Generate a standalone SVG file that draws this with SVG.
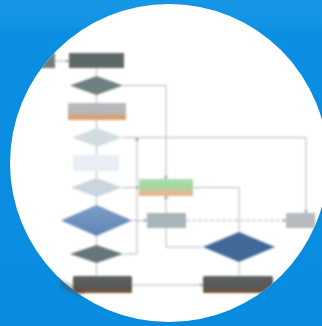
<svg xmlns="http://www.w3.org/2000/svg" width="322" height="326" viewBox="0 0 322 326">
<defs>
<clipPath id="cc"><circle cx="169" cy="163" r="159"/></clipPath>
<filter id="bl" x="-10%" y="-10%" width="120%" height="120%"><feGaussianBlur stdDeviation="0.8"/></filter>
<filter id="sh" x="-50%" y="-50%" width="200%" height="200%"><feGaussianBlur stdDeviation="2"/></filter>
<linearGradient id="bg" x1="0" y1="0" x2="0" y2="1"><stop offset="0" stop-color="#1697e6"/><stop offset="0.08" stop-color="#1293e4"/><stop offset="0.1" stop-color="#0b8fe2"/><stop offset="1" stop-color="#0a8de0"/></linearGradient>
<linearGradient id="g2" x1="0" y1="0" x2="0" y2="1"><stop offset="0" stop-color="#b8babd"/><stop offset="0.6" stop-color="#b4b6b9"/><stop offset="0.75" stop-color="#d8a475"/><stop offset="1" stop-color="#d9a070"/></linearGradient>
<linearGradient id="gg" x1="0" y1="0" x2="0" y2="1"><stop offset="0" stop-color="#a9dcaa"/><stop offset="0.55" stop-color="#a4d6a2"/><stop offset="0.7" stop-color="#e3bd95"/><stop offset="1" stop-color="#e2b68c"/></linearGradient>
<linearGradient id="gb" x1="0" y1="0" x2="0" y2="1"><stop offset="0" stop-color="#5c5f61"/><stop offset="0.65" stop-color="#56595a"/><stop offset="1" stop-color="#7b5432"/></linearGradient>
<linearGradient id="gd4" x1="0" y1="0" x2="0" y2="1"><stop offset="0" stop-color="#7c9cc4"/><stop offset="1" stop-color="#5f86b6"/></linearGradient>
<marker id="ah" viewBox="0 0 6 6" refX="5" refY="3" markerWidth="4" markerHeight="4" orient="auto"><path d="M0,0 L6,3 L0,6 z" fill="#9aa0a3"/></marker>
</defs>
<style>
.ln{fill:none;stroke:#b3b7b9;stroke-width:1}
.ds{stroke-dasharray:4 2}
</style>
<rect width="322" height="326" fill="url(#bg)"/>
<circle cx="169" cy="164" r="159" fill="#0a6fb3" opacity="0.2" filter="url(#sh)"/>
<circle cx="169" cy="163" r="159" fill="#ffffff"/>
<g clip-path="url(#cc)">
<g filter="url(#bl)">
<g id="connectors">
<path class="ln" d="M96.5 68 V276"/>
<path class="ln" d="M55 61 H69" marker-end="url(#ah)"/>
<path class="ln" d="M123 85.5 H166 V179" marker-end="url(#ah)"/>
<path class="ln" d="M122 137.5 H306 V213" marker-end="url(#ah)"/>
<path class="ln" d="M123 254 H137 V137.5" marker-end="url(#ah)"/>
<path class="ln" d="M122 187.5 H139" marker-end="url(#ah)"/>
<path class="ln" d="M193 187.5 H239 V232"/>
<path class="ln" d="M132 220.5 H147" marker-end="url(#ah)"/>
<path class="ln ds" d="M186 220.5 H286" marker-end="url(#ah)"/>
<path class="ln" d="M166 213 V196" marker-end="url(#ah)"/>
<path class="ln" d="M166 228 V247 H203"/>
<path class="ln" d="M239 262 V276"/>
<path class="ln" d="M132 285 H203" marker-end="url(#ah)"/>
</g>
<g id="n0"><rect x="38" y="53" width="17" height="15" fill="#737b7b"/></g>
<g id="n1"><rect x="69" y="53" width="55" height="15" fill="#5e6767"/></g>
<g id="n2"><polygon points="96.5,76 123,85.5 96.5,95 70,85.5" fill="#6f7f81"/></g>
<g id="n3"><rect x="68" y="103" width="58" height="17" fill="url(#g2)"/></g>
<g id="n4"><polygon points="97,128 122,137.5 97,147 72,137.5" fill="#d2dde2"/></g>
<g id="n5"><rect x="73" y="155" width="46" height="16" fill="#e8eef3"/></g>
<g id="n6"><polygon points="96.5,178 122,187.5 96.5,197 71,187.5" fill="#c8d6dd"/></g>
<g id="n7"><rect x="139" y="179" width="54" height="17" fill="url(#gg)"/></g>
<g id="n8"><polygon points="96.5,205 132,220.5 96.5,236 61,220.5" fill="url(#gd4)"/></g>
<g id="n9"><rect x="147" y="213" width="39" height="15" fill="#a9b4b9"/></g>
<g id="n10"><rect x="286" y="213" width="29" height="15" fill="#b7bbbe"/></g>
<g id="n11"><polygon points="239,232 275,247 239,262 203,247" fill="#41699a"/></g>
<g id="n12"><polygon points="96.5,245 123,254 96.5,263 70,254" fill="#667779"/></g>
<g id="n13"><rect x="73" y="276" width="59" height="17" rx="1.5" fill="url(#gb)"/></g>
<g id="n14"><rect x="203" y="276" width="70" height="17" rx="1.5" fill="url(#gb)"/></g>
</g>
</g>
<path d="M58 280 L70 285 L86 292 L80 295 L64 289 Z" fill="#5a4a3e" opacity="0.55" filter="url(#sh)"/>
</svg>
